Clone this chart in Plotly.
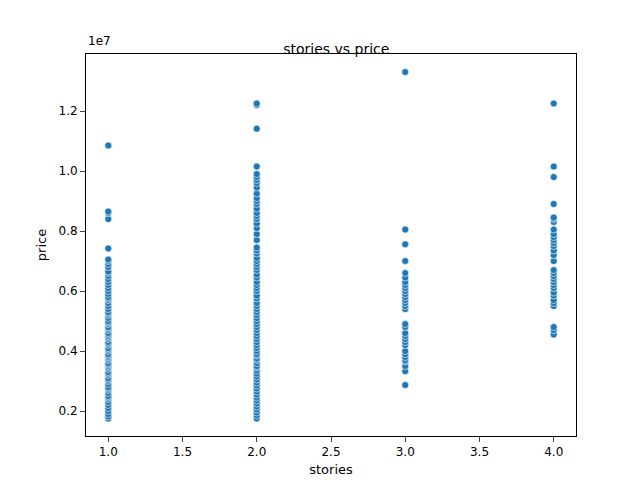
import plotly.graph_objects as go

# prices in millions, grouped by number of stories
price_1 = [1.75, 1.82, 1.9, 2.0, 2.1, 2.2, 2.3, 2.4, 2.45, 2.5, 2.6, 2.7, 2.75, 2.8, 2.9, 3.0,
           3.05, 3.1, 3.2, 3.25, 3.3, 3.4, 3.45, 3.5, 3.55, 3.6, 3.7, 3.75, 3.8, 3.85, 3.9, 4.0,
           4.05, 4.1, 4.2, 4.25, 4.3, 4.4, 4.45, 4.5, 4.55, 4.6, 4.7, 4.75, 4.8, 4.9, 4.95, 5.0,
           5.1, 5.2, 5.25, 5.3, 5.4, 5.5, 5.6, 5.7, 5.75, 5.8, 5.9, 6.0, 6.1, 6.2, 6.3, 6.4,
           6.5, 6.6, 6.65, 6.8, 6.9, 7.0, 7.05, 7.42, 8.4, 8.6, 8.65, 10.85]
price_2 = [1.75, 1.85, 1.95, 2.05, 2.15, 2.25, 2.35, 2.45, 2.55, 2.65, 2.75, 2.85, 2.95, 3.05,
           3.15, 3.25, 3.35, 3.45, 3.5, 3.6, 3.7, 3.75, 3.85, 3.9, 4.0, 4.1, 4.2, 4.3, 4.4, 4.5,
           4.6, 4.7, 4.8, 4.9, 5.0, 5.1, 5.2, 5.3, 5.4, 5.5, 5.6, 5.75, 5.85, 6.0, 6.1, 6.2,
           6.3, 6.45, 6.55, 6.7, 6.8, 6.9, 7.0, 7.1, 7.25, 7.35, 7.45, 7.7, 7.9, 8.1, 8.25,
           8.4, 8.5, 8.6, 8.75, 8.9, 9.0, 9.1, 9.25, 9.45, 9.6, 9.7, 9.8, 9.9, 10.15,
           11.41, 12.2, 12.25]
price_3 = [2.87, 3.33, 3.5, 3.65, 3.7, 3.8, 3.9, 4.0, 4.2, 4.3, 4.4, 4.5, 4.6, 4.8, 4.9,
           5.4, 5.5, 5.6, 5.7, 5.8, 5.9, 6.0, 6.1, 6.2, 6.3, 6.45, 6.6, 7.0, 7.56, 8.05, 13.3]
price_4 = [4.55, 4.7, 4.8, 5.5, 5.6, 5.7, 5.85, 5.95, 6.1, 6.2, 6.3, 6.4, 6.5, 6.6, 6.7,
           7.0, 7.2, 7.35, 7.5, 7.6, 7.7, 7.8, 7.9, 8.05, 8.3, 8.4, 8.45, 8.9, 9.8, 10.15, 12.25]

stories, price = [], []
for s, vals in [(1, price_1), (2, price_2), (3, price_3), (4, price_4)]:
    stories += [s] * len(vals)
    price += [v * 1e6 for v in vals]

y_ticks = [0.2, 0.4, 0.6, 0.8, 1.0, 1.2]
x_ticks = [1.0, 1.5, 2.0, 2.5, 3.0, 3.5, 4.0]

fig = go.Figure(go.Scatter(
    x=stories, y=price, mode="markers",
    marker=dict(color="#1f77b4", size=7, line=dict(color="white", width=0.6)),
))

axis_style = dict(showline=True, linecolor="black", mirror=True, ticks="outside",
                  showgrid=False, zeroline=False, tickfont=dict(size=12, color="black"))
fig.update_xaxes(range=[0.85, 4.15], tickvals=x_ticks, ticktext=[f"{t:.1f}" for t in x_ticks],
                 title=dict(text="stories", font=dict(size=13, color="black"), standoff=6),
                 **axis_style)
fig.update_yaxes(range=[1.17e6, 1.39e7], tickvals=[t * 1e7 for t in y_ticks],
                 ticktext=[f"{t:.1f}" for t in y_ticks],
                 title=dict(text="price", font=dict(size=13, color="black"), standoff=8),
                 **axis_style)
fig.update_layout(
    width=640, height=480, plot_bgcolor="white", paper_bgcolor="white",
    font=dict(family="DejaVu Sans"), showlegend=False,
    margin=dict(l=78, r=72, t=46, b=52, autoexpand=False),
    title=dict(text="stories vs price", x=0.513, y=0.925, font=dict(size=14, color="black")),
    annotations=[dict(text="1e7", xref="paper", yref="paper", x=0, y=1.01,
                      xanchor="left", yanchor="bottom", showarrow=False,
                      font=dict(size=12, color="black"))],
)
fig.write_html("out.html")
